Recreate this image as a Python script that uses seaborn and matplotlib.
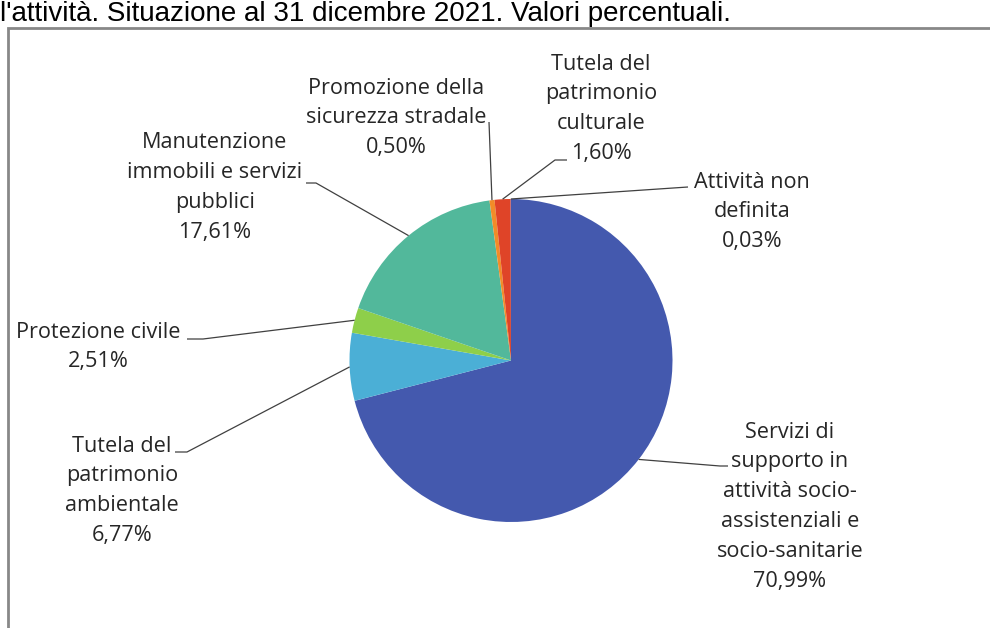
import matplotlib
matplotlib.use("Agg")
import matplotlib.pyplot as plt
import seaborn as sns
import numpy as np

sns.set_theme(style="white")
plt.rcParams['font.family'] = ['Open Sans', 'DejaVu Sans']

# ---- data ----
categories = [
    "Servizi di supporto in attività socio-assistenziali e socio-sanitarie",
    "Tutela del patrimonio ambientale",
    "Protezione civile",
    "Manutenzione immobili e servizi pubblici",
    "Promozione della sicurezza stradale",
    "Tutela del patrimonio culturale",
    "Attività non definita",
]
values = [70.99, 6.77, 2.51, 17.61, 0.50, 1.60, 0.03]
value_labels = ["70,99%", "6,77%", "2,51%", "17,61%", "0,50%", "1,60%", "0,03%"]
label_lines = [
    ["Servizi di", "supporto in", "attività socio-", "assistenziali e", "socio-sanitarie"],
    ["Tutela del", "patrimonio", "ambientale"],
    ["Protezione civile"],
    ["Manutenzione", "immobili e servizi", "pubblici"],
    ["Promozione della", "sicurezza stradale"],
    ["Tutela del", "patrimonio", "culturale"],
    ["Attività non", "definita"],
]
colors = ["#4459AE", "#4BAFD6", "#8ECF4A", "#52B89B", "#F28C28", "#DF4428", "#7F5BA6"]

title = "l'attività. Situazione al 31 dicembre 2021. Valori percentuali."

# ---- layout (pixel coordinates, y measured from top) ----
W, H = 990, 628
CX, CY, R = 511, 360.5, 161.5
# text centre x, first line y, elbow point, end point of leader line
layout = [
    (790, 432, (720, 466), (728, 466)),
    (122, 446, (187, 452), (175, 452)),
    (98, 332, (203, 339), (187, 339)),
    (215, 143, (316, 183), (306, 183)),
    (396, 88, (489, 122), (489, 122)),
    (601, 64, (555, 160), (567, 160)),
    (752, 182, (688, 187), (688, 187)),
]
LINE_H = 29.8


def Y(y):
    return H - y


fig = plt.figure(figsize=(W / 100, H / 100), dpi=100)
ax = fig.add_axes([0, 0, 1, 1])

wedges, _ = ax.pie(values, colors=colors, startangle=90, counterclock=False,
                   center=(CX, Y(CY)), radius=R,
                   wedgeprops=dict(linewidth=0))
ax.set_xlim(0, W)
ax.set_ylim(0, H)
ax.set_aspect("equal")
ax.axis("off")

for w, lines, vlab, (tx, ty, elbow, end) in zip(wedges, label_lines, value_labels, layout):
    ang = np.deg2rad((w.theta1 + w.theta2) / 2)
    px = CX + R * np.cos(ang)
    py = Y(CY) + R * np.sin(ang)
    ax.plot([px, elbow[0], end[0]], [py, Y(elbow[1]), Y(end[1])],
            color="#404040", lw=0.9, solid_capstyle="butt", zorder=3)
    all_lines = lines + [vlab]
    for i, ln in enumerate(all_lines):
        ax.text(tx, Y(ty + i * LINE_H), ln, ha="center", va="center",
                fontsize=15.6, color="#262626")

# frame border of the chart area
ax.plot([8, 8, W + 5], [Y(H + 5), Y(28), Y(28)], color="#888888", lw=2,
        solid_joinstyle="miter", clip_on=False)

# title at top
ax.text(0, Y(21), title, ha="left", va="baseline", fontsize=20,
        family="Liberation Sans", color="black")

fig.savefig("out.png", dpi=100)
